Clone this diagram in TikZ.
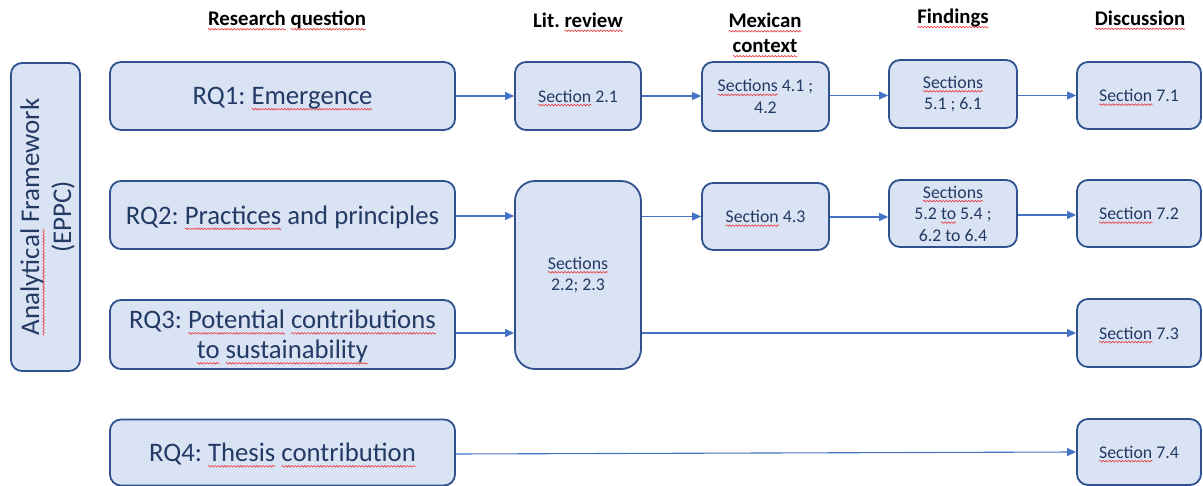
\documentclass[tikz,border=0pt]{standalone}
\usepackage{fontspec}
\setmainfont{Carlito}
\usetikzlibrary{arrows.meta,calc,decorations.pathmorphing}
\frenchspacing

\definecolor{boxfill}{HTML}{DAE3F3}
\definecolor{boxline}{HTML}{2F528F}
\definecolor{boxtext}{HTML}{223A64}
\definecolor{flow}{HTML}{4472C4}
\definecolor{spellred}{HTML}{E8383D}

% red wavy underline (spell-check marks)
\tikzset{spellwave/.style={draw=spellred, fill=none, line width=0.6pt, sharp corners,
  decorate, decoration={snake, segment length=3.2pt, amplitude=0.8pt}}}
\newlength\splw
\newcommand\spl[1]{\settowidth\splw{#1}\leavevmode
  \rlap{\tikz[overlay,reset cm,baseline=0pt]\path[spellwave] (0pt,-0.17em) -- (\splw,-0.17em);}#1}

\begin{document}
\begin{tikzpicture}[x=1pt,y=-1pt,
  box/.style={draw=boxline, fill=boxfill, line width=1.8pt, rounded corners=11pt,
              text=boxtext, align=center, inner sep=0pt},
  head/.style={font=\bfseries\fontsize{20.8}{25}\selectfont, align=center, text=black},
  sec/.style={box, font=\fontsize{17.8}{21.5}\selectfont},
  rq/.style={box, font=\fontsize{26.7}{30}\selectfont, minimum width=345pt, text depth=0pt},
  flowarrow/.style={draw=flow, line width=1.1pt, -{Triangle[length=9pt,width=8pt]}},
]
\useasboundingbox (0,0) rectangle (1203,486);

% column headings
\node[head] (h1) at (287,20) {\spl{Research} \spl{question}};
\node[head] (h2) at (578,20) {Lit. \spl{review}};
\node[head] (h3) at (765,33) {\spl{Mexican}\\\spl{context}};
\node[head] (h4) at (953,18) {\spl{Findings}};
\node[head] (h5) at (1140,18) {\spl{Discussion}};

% analytical framework bar
\node[box, minimum width=69pt, minimum height=308pt] (af) at (45.5,217) {};
\node[rotate=90, text=boxtext, align=center, font=\fontsize{27}{32}\selectfont]
  (aft) at ($(af.center)+(2,0)$) {\spl{Analytical} Framework\\(EPPC)};

% research questions
\node[rq, minimum height=68pt] (rq1) at (282.5,96) {RQ1: \spl{Emergence}};
\node[rq, minimum height=68pt] (rq2) at (282.5,215) {RQ2: \spl{Practices} and principles};
\node[rq, minimum height=69pt] (rq3) at (282.5,334.5)
  {RQ3: \spl{Potential} \spl{contributions}\\\spl{to} \spl{sustainability}};
\node[rq, minimum height=66pt] (rq4) at (282.5,452.5) {RQ4: \spl{Thesis} \spl{contribution}};

% literature review
\node[sec, minimum width=126pt, minimum height=68pt] (s21) at (578,96) {\spl{Section} 2.1};
\node[sec, minimum width=126pt, minimum height=188pt, rounded corners=20pt] (s22) at (578,275)
  {\spl{Sections}\\2.2; 2.3};

% Mexican context
\node[sec, minimum width=127pt, minimum height=69pt] (s41) at (765.5,96.5)
  {\spl{Sections} 4.1 ;\\4.2};
\node[sec, minimum width=127pt, minimum height=67pt] (s43) at (765.5,216.5) {\spl{Section} 4.3};

% findings
\node[sec, minimum width=128pt, minimum height=68pt] (s51) at (953,94)
  {\spl{Sections}\\5.1 ; 6.1};
\node[sec, minimum width=128pt, minimum height=67pt] (s52) at (953,213.5)
  {\spl{Sections}\\5.2 \spl{to} 5.4 ;\\6.2 to 6.4};

% discussion
\node[sec, minimum width=124pt, minimum height=67pt] (s71) at (1139,95.5) {\spl{Section} 7.1};
\node[sec, minimum width=124pt, minimum height=67pt] (s72) at (1139,213.5) {\spl{Section} 7.2};
\node[sec, minimum width=124pt, minimum height=68pt] (s73) at (1139,333) {\spl{Section} 7.3};
\node[sec, minimum width=124pt, minimum height=66pt] (s74) at (1139,452) {\spl{Section} 7.4};

% flows, row 1
\draw[flowarrow] (rq1.east) -- (rq1.east -| s21.west);
\draw[flowarrow] (s21.east) -- (s21.east -| s41.west);
\draw[flowarrow] ($(s41.east)+(0,-1)$) -- ($(s41.east -| s51.west)+(0,-1)$);
\draw[flowarrow] (s51.east |- s71.west) -- (s71.west);

% flows, row 2
\draw[flowarrow] ($(rq2.east)+(0,1)$) -- ($(rq2.east -| s22.west)+(0,1)$);
\draw[flowarrow] (s43.west -| s22.east) -- (s43.west);
\draw[flowarrow] ($(s43.east)+(0,0.5)$) -- ($(s43.east -| s52.west)+(0,0.5)$);
\draw[flowarrow] ($(s52.east)+(0,1.5)$) -- ($(s52.east -| s72.west)+(0,1.5)$);

% flows, row 3
\draw[flowarrow] ($(rq3.east)+(0,-1.5)$) -- ($(rq3.east -| s22.west)+(0,-1.5)$);
\draw[flowarrow] (s73.west -| s22.east) -- (s73.west);

% flows, row 4
\draw[flowarrow] ($(rq4.east)+(0,1.5)$) -- (s74.west);
\end{tikzpicture}
\end{document}
